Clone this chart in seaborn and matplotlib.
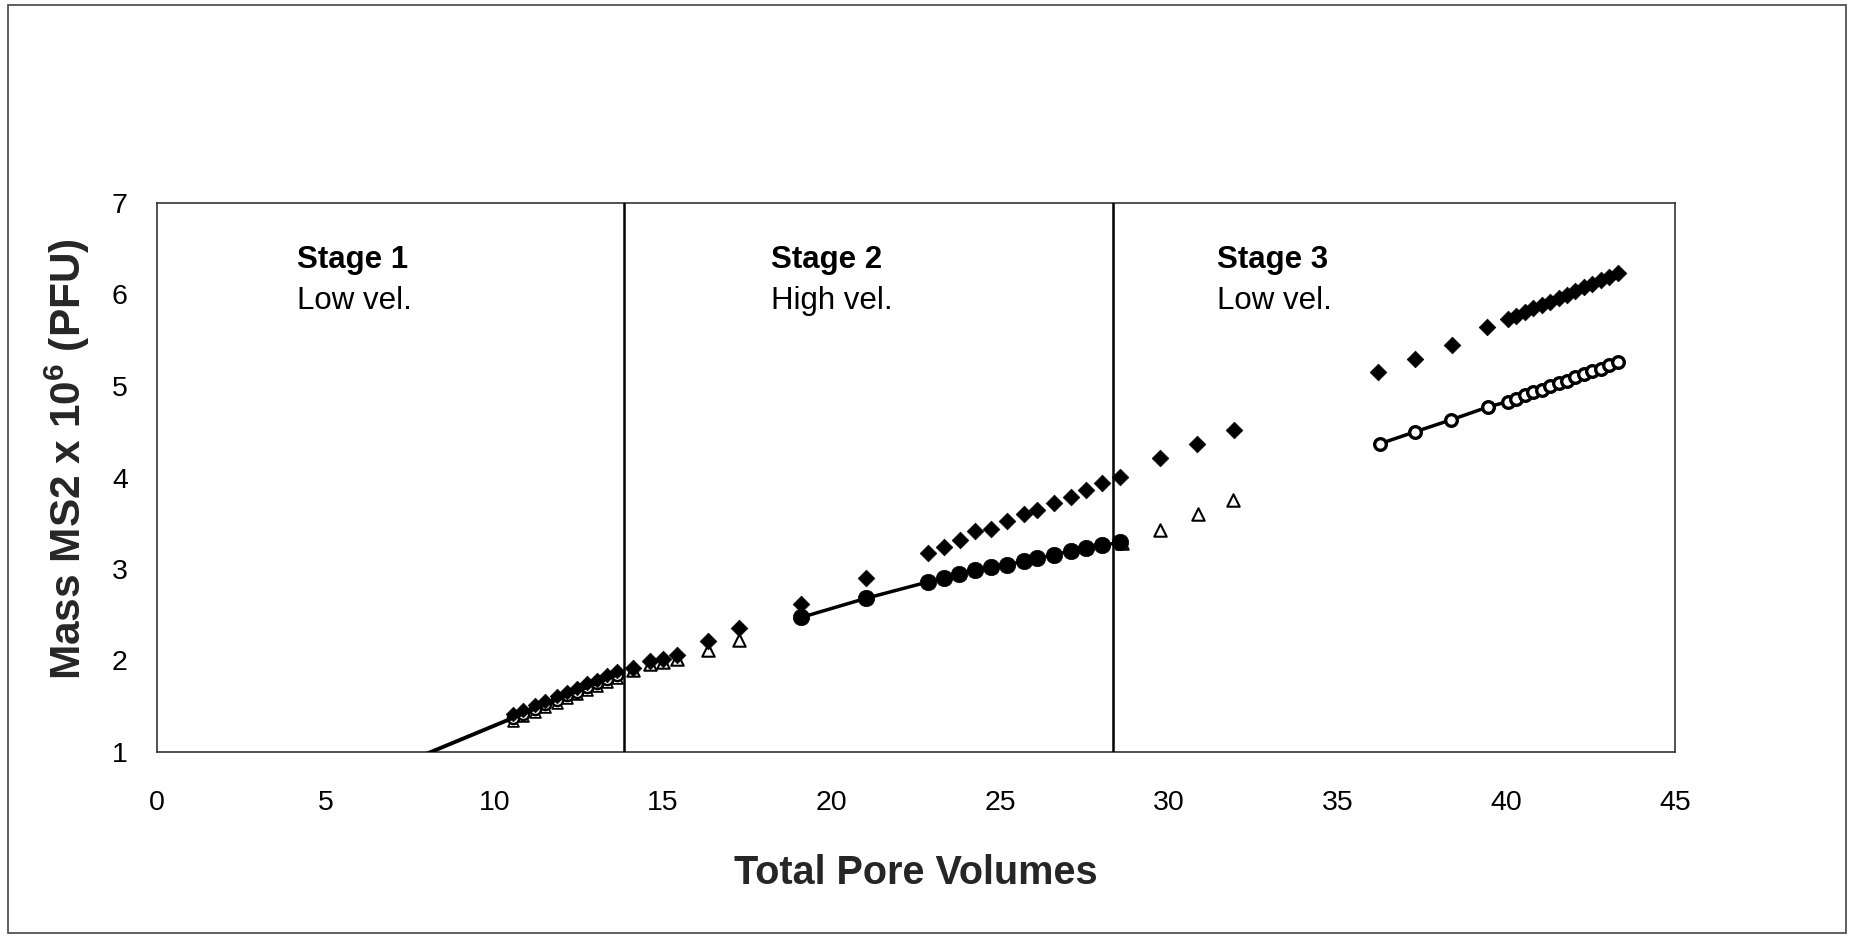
import numpy as np
import pandas as pd
import matplotlib
matplotlib.use("Agg")
import matplotlib.pyplot as plt
import seaborn as sns
from matplotlib.patches import Rectangle

# ---------------- data ----------------
# Stage 1 (clustered points)
s1_x = [10.55, 10.85, 11.2, 11.5, 11.85, 12.15, 12.45, 12.75, 13.05, 13.35, 13.65]
s1_diamond = [1.41, 1.46, 1.51, 1.56, 1.61, 1.66, 1.70, 1.75, 1.79, 1.84, 1.88]
s1_circle = [1.37, 1.42, 1.47, 1.52, 1.57, 1.62, 1.66, 1.71, 1.75, 1.80, 1.84]
s1_triangle = [1.34, 1.39, 1.44, 1.49, 1.54, 1.59, 1.63, 1.68, 1.72, 1.77, 1.81]
fit1_x = [7.4, 13.8]
fit1_y = [0.89, 1.87]

# Filled diamonds (stages 2 and 3)
dia_x = [14.12, 14.62, 15.01, 15.41, 16.32, 17.24, 19.09, 21.02,
         22.87, 23.33, 23.79, 24.26, 24.72, 25.19, 25.70, 26.10, 26.59, 27.09, 27.53, 28.00, 28.55,
         29.74, 30.84, 31.93, 36.21, 37.30, 38.38, 39.44,
         40.05, 40.30, 40.55, 40.80, 41.05, 41.30, 41.55, 41.80, 42.05, 42.30, 42.55, 42.80, 43.05, 43.30]
dia_y = [1.92, 2.00, 2.02, 2.06, 2.21, 2.35, 2.62, 2.90,
         3.18, 3.24, 3.32, 3.41, 3.44, 3.52, 3.60, 3.64, 3.72, 3.79, 3.86, 3.94, 4.01,
         4.21, 4.37, 4.52, 5.15, 5.30, 5.45, 5.64,
         5.73, 5.77, 5.81, 5.85, 5.88, 5.92, 5.96, 6.00, 6.04, 6.08, 6.12, 6.16, 6.19, 6.23]

# Open triangles
tri_x = [14.12, 14.62, 15.01, 15.41, 16.32, 17.24, 28.6, 29.74, 30.87, 31.9]
tri_y = [1.90, 1.96, 1.98, 2.02, 2.11, 2.22, 3.28, 3.43, 3.60, 3.75]

# Filled circles with line (stage 2)
c2_x = [19.09, 21.02, 22.87, 23.32, 23.78, 24.25, 24.71, 25.19, 25.69, 26.10, 26.58, 27.09, 27.55, 28.01, 28.55]
c2_y = [2.47, 2.68, 2.86, 2.90, 2.95, 2.99, 3.02, 3.04, 3.09, 3.12, 3.15, 3.20, 3.23, 3.26, 3.29]

# Open circles with line (stage 3)
c3_x = [36.26, 37.30, 38.36, 39.45,
        40.05, 40.30, 40.55, 40.80, 41.05, 41.30, 41.55, 41.80, 42.05, 42.30, 42.55, 42.80, 43.05, 43.30]
c3_y = [4.37, 4.50, 4.63, 4.77,
        4.83, 4.86, 4.90, 4.93, 4.96, 5.00, 5.03, 5.06, 5.10, 5.13, 5.16, 5.19, 5.23, 5.26]

stage_bounds = [13.85, 28.33]
stage_titles = ["Stage 1", "Stage 2", "Stage 3"]
stage_subs = ["Low vel.", "High vel.", "Low vel."]
stage_text_x = [4.14, 18.2, 31.42]

x_ticks = [0, 5, 10, 15, 20, 25, 30, 35, 40, 45]
y_ticks = [1, 2, 3, 4, 5, 6, 7]

# ---------------- style ----------------
sns.set_theme(style="white")
plt.rcParams["font.family"] = ["Liberation Sans", "DejaVu Sans"]
plt.rcParams["mathtext.fontset"] = "custom"
plt.rcParams["mathtext.rm"] = "Liberation Sans"
plt.rcParams["mathtext.bf"] = "Liberation Sans:bold"

fig = plt.figure(figsize=(18.55, 9.36), dpi=100)
fig.patch.set_facecolor("white")
ax = fig.add_axes([157 / 1855, 1 - 752 / 936, (1675 - 157) / 1855, (752 - 203) / 936])

# border around figure
fig.patches.append(Rectangle((8 / 1855, 1 - 933 / 936), (1846 - 8) / 1855, (933 - 5) / 936,
                             transform=fig.transFigure, fill=False, edgecolor="#444444",
                             linewidth=1.2, zorder=0))

# stage 1 fit line
sns.lineplot(x=fit1_x, y=fit1_y, ax=ax, color="black", linewidth=2.8, sort=False, zorder=3)

# stage 1 markers
sns.scatterplot(x=s1_x, y=s1_triangle, ax=ax, marker="^", s=60, facecolor="white",
                edgecolor="black", linewidth=1.3, zorder=2)
sns.scatterplot(x=s1_x, y=s1_circle, ax=ax, marker="o", s=65, facecolor="white",
                edgecolor="black", linewidth=1.8, zorder=2)
sns.scatterplot(x=s1_x, y=s1_diamond, ax=ax, marker="D", s=55, color="black",
                edgecolor="black", linewidth=0.5, zorder=3)

# triangles
sns.scatterplot(x=tri_x, y=tri_y, ax=ax, marker="^", s=80, facecolor="white",
                edgecolor="black", linewidth=1.5, zorder=3)
# diamonds
sns.scatterplot(x=dia_x, y=dia_y, ax=ax, marker="D", s=72, color="black",
                edgecolor="black", linewidth=0.5, zorder=4)
# stage 2 filled circles with line
sns.lineplot(x=c2_x, y=c2_y, ax=ax, color="black", linewidth=2.5, zorder=4)
sns.scatterplot(x=c2_x, y=c2_y, ax=ax, marker="o", s=140, color="black",
                edgecolor="black", linewidth=0.5, zorder=5)
# stage 3 open circles with line
sns.lineplot(x=c3_x, y=c3_y, ax=ax, color="black", linewidth=2.5, zorder=4)
sns.scatterplot(x=c3_x, y=c3_y, ax=ax, marker="o", s=70, facecolor="white",
                edgecolor="black", linewidth=2.4, zorder=5)

# stage divider lines
for b in stage_bounds:
    ax.axvline(b, color="black", linewidth=1.8, zorder=6)

# stage labels
for tx, t, sub in zip(stage_text_x, stage_titles, stage_subs):
    ax.text(tx, 6.29, t, fontsize=22.5, fontweight="bold", ha="left", va="baseline", color="black")
    ax.text(tx, 5.84, sub, fontsize=22.5, ha="left", va="baseline", color="black")

ax.set_xlim(0, 45)
ax.set_ylim(1, 7)
ax.set_xticks(x_ticks)
ax.set_yticks(y_ticks)
ax.tick_params(axis="both", which="major", direction="inout", length=12, width=1.2,
               color="#222222", labelsize=20.5, labelcolor="black")
ax.tick_params(axis="x", pad=21)
ax.tick_params(axis="y", pad=15)
ax.set_xlabel("Total Pore Volumes", fontsize=28.5, fontweight="bold", labelpad=28)
ax.set_ylabel(r"Mass MS2 x 10$^{\mathbf{6}}$ (PFU)", fontsize=30.5, fontweight="bold")
ax.yaxis.set_label_coords(-0.043, 0.533)

for sp in ax.spines.values():
    sp.set_visible(True)
    sp.set_color("#333333")
    sp.set_linewidth(1.2)
ax.set_facecolor("white")
if ax.get_legend() is not None:
    ax.get_legend().remove()

fig.savefig("out.png", dpi=100, facecolor="white")
